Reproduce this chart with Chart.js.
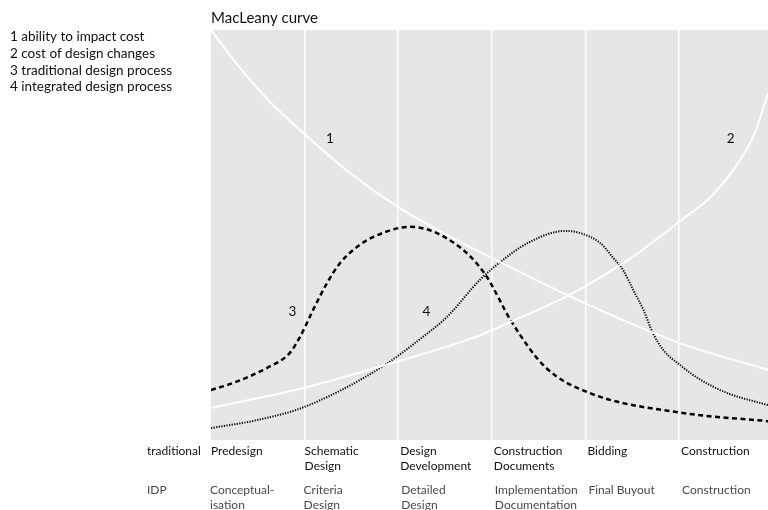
<!DOCTYPE html>
<html>
<head>
<meta charset="utf-8">
<title>MacLeany curve</title>
<script src="https://cdn.jsdelivr.net/npm/chart.js@4.4.1/dist/chart.umd.min.js"></script>
<style>
  html, body { margin: 0; padding: 0; background: #fff; }
  #wrap { position: relative; width: 768px; height: 510px; }
</style>
</head>
<body>
<div id="wrap"><canvas id="mac" width="768" height="510"></canvas></div>
<script>
// --- data (x = project phase, y = relative level 0..100) ---
const legendItems = ['1 ability to impact cost', '2 cost of design changes', '3 traditional design process', '4 integrated design process'];
const traditionalPhases = [['Predesign'], ['Schematic', 'Design'], ['Design', 'Development'], ['Construction', 'Documents'], ['Bidding'], ['Construction']];
const idpPhases = [['Conceptual-', 'isation'], ['Criteria', 'Design'], ['Detailed', 'Design'], ['Implementation', 'Documentation'], ['Final Buyout'], ['Construction']];

// 1 ability to impact cost
const impactX = [0, 0.29, 0.65, 1.0, 1.52, 2.0, 2.66, 3.09, 3.8, 5.0, 5.95];
const impactY = [100, 91.3, 82.0, 74.6, 64.5, 56.8, 48.3, 43.4, 35.4, 23.7, 17.1];

// 2 cost of design changes
const changesX = [0, 0.99, 2.0, 2.8, 3.3, 3.83, 4.5, 5.04, 5.3, 5.58, 5.8, 5.95];
const changesY = [7.8, 12.7, 19.2, 24.9, 29.8, 35.4, 44.6, 53.9, 58.5, 65.9, 74.4, 84.6];

// 3 traditional design process
const tradX = [0, 0.235, 0.6, 0.84, 0.95, 1.09, 1.24, 1.38, 1.56, 1.73, 2.13, 2.6, 2.92, 3.22, 3.57, 4.04, 5.04, 5.95];
const tradY = [12.2, 13.9, 17.6, 21.2, 25.1, 31.7, 38.3, 43.2, 47.1, 49.5, 52.0, 48.0, 40.7, 28.5, 17.8, 11.5, 6.6, 4.6];

// 4 integrated design process
const idpX = [0, 0.5, 0.99, 1.81, 2.26, 2.52, 2.87, 3.09, 3.38, 3.78, 3.94, 4.16, 4.29, 4.4, 4.51, 4.62, 4.72, 4.83, 5.01, 5.2, 5.51, 5.95];
const idpY = [2.9, 4.9, 8.0, 17.6, 25.1, 30.0, 39.0, 43.4, 48.0, 51.0, 50.5, 48.0, 44.6, 41.5, 36.6, 31.7, 26.1, 22.0, 18.3, 15.1, 11.5, 8.5];

const X_MAX = 5.95;
const FONT = 'Lato, "Open Sans", sans-serif';

const toPoints = (xs, ys) => xs.map((x, i) => ({ x: x, y: ys[i] }));

// grey plot area + all the free text (title, legend, curve numbers, phase rows)
const decorPlugin = {
  id: 'decor',
  beforeDraw(chart) {
    const { ctx, chartArea: a } = chart;
    ctx.save();
    ctx.fillStyle = '#e6e6e6';
    ctx.fillRect(a.left, a.top, a.right - a.left, a.bottom - a.top);
    ctx.restore();
  },
  afterDraw(chart) {
    const { ctx, chartArea: a } = chart;
    const xs = chart.scales.x, ys = chart.scales.y;
    ctx.save();
    ctx.textBaseline = 'middle';
    ctx.textAlign = 'left';

    // title
    ctx.fillStyle = '#111';
    ctx.font = '15px ' + FONT;
    ctx.fillText('MacLeany curve', a.left, 18);

    // legend
    ctx.font = '13.5px ' + FONT;
    legendItems.forEach((t, i) => ctx.fillText(t, 10, 37 + i * 16.7));

    // curve numbers, anchored in data space
    ctx.font = '13.5px ' + FONT;
    ctx.textAlign = 'center';
    ctx.fillText('1', xs.getPixelForValue(1.27), ys.getPixelForValue(73.6));
    ctx.fillText('2', xs.getPixelForValue(5.55), ys.getPixelForValue(73.6));
    ctx.fillText('3', xs.getPixelForValue(0.87), ys.getPixelForValue(31.2));
    ctx.fillText('4', xs.getPixelForValue(2.3), ys.getPixelForValue(31.2));

    // phase rows under the plot
    ctx.textAlign = 'left';
    ctx.font = '12px ' + FONT;
    ctx.fillStyle = '#111';
    ctx.fillText('traditional', 147, a.bottom + 11);
    traditionalPhases.forEach((lines, i) => {
      const px = xs.getPixelForValue(i) + (i > 1 ? 2 : 0);
      lines.forEach((t, j) => ctx.fillText(t, px, a.bottom + 11 + j * 15.5));
    });
    ctx.fillStyle = '#4a4a4a';
    ctx.fillText('IDP', 147, a.bottom + 50);
    idpPhases.forEach((lines, i) => {
      const px = xs.getPixelForValue(i) + (i > 1 ? 3 : -1);
      lines.forEach((t, j) => ctx.fillText(t, px, a.bottom + 50 + j * 15));
    });
    ctx.restore();
  }
};

const whiteLine = { borderColor: '#ffffff', borderWidth: 2, pointRadius: 0, fill: false, cubicInterpolationMode: 'monotone' };

new Chart(document.getElementById('mac'), {
  type: 'line',
  data: {
    datasets: [
      Object.assign({ label: 'ability to impact cost', data: toPoints(impactX, impactY) }, whiteLine),
      Object.assign({ label: 'cost of design changes', data: toPoints(changesX, changesY) }, whiteLine),
      {
        label: 'traditional design process',
        data: toPoints(tradX, tradY),
        borderColor: '#000', borderWidth: 2.5, borderDash: [5, 3.5],
        pointRadius: 0, fill: false, cubicInterpolationMode: 'monotone'
      },
      {
        label: 'integrated design process',
        data: toPoints(idpX, idpY),
        borderColor: '#111', borderWidth: 2, borderDash: [1.3, 1.3],
        pointRadius: 0, fill: false, cubicInterpolationMode: 'monotone'
      }
    ]
  },
  options: {
    responsive: false,
    animation: false,
    layout: { padding: { left: 211, right: 0, top: 30, bottom: 70 } },
    plugins: { legend: { display: false }, tooltip: { enabled: false } },
    scales: {
      x: {
        type: 'linear', min: 0, max: X_MAX,
        ticks: { display: false, stepSize: 1 },
        border: { display: false },
        grid: {
          drawTicks: false, lineWidth: 1.5,
          color: c => (c.tick && c.tick.value > 0 && c.tick.value < 5.5) ? '#ffffff' : 'rgba(0,0,0,0)'
        },
        afterFit: s => { s.height = 0; }
      },
      y: { display: false, min: 0, max: 100 }
    }
  },
  plugins: [decorPlugin]
});
</script>
</body>
</html>
